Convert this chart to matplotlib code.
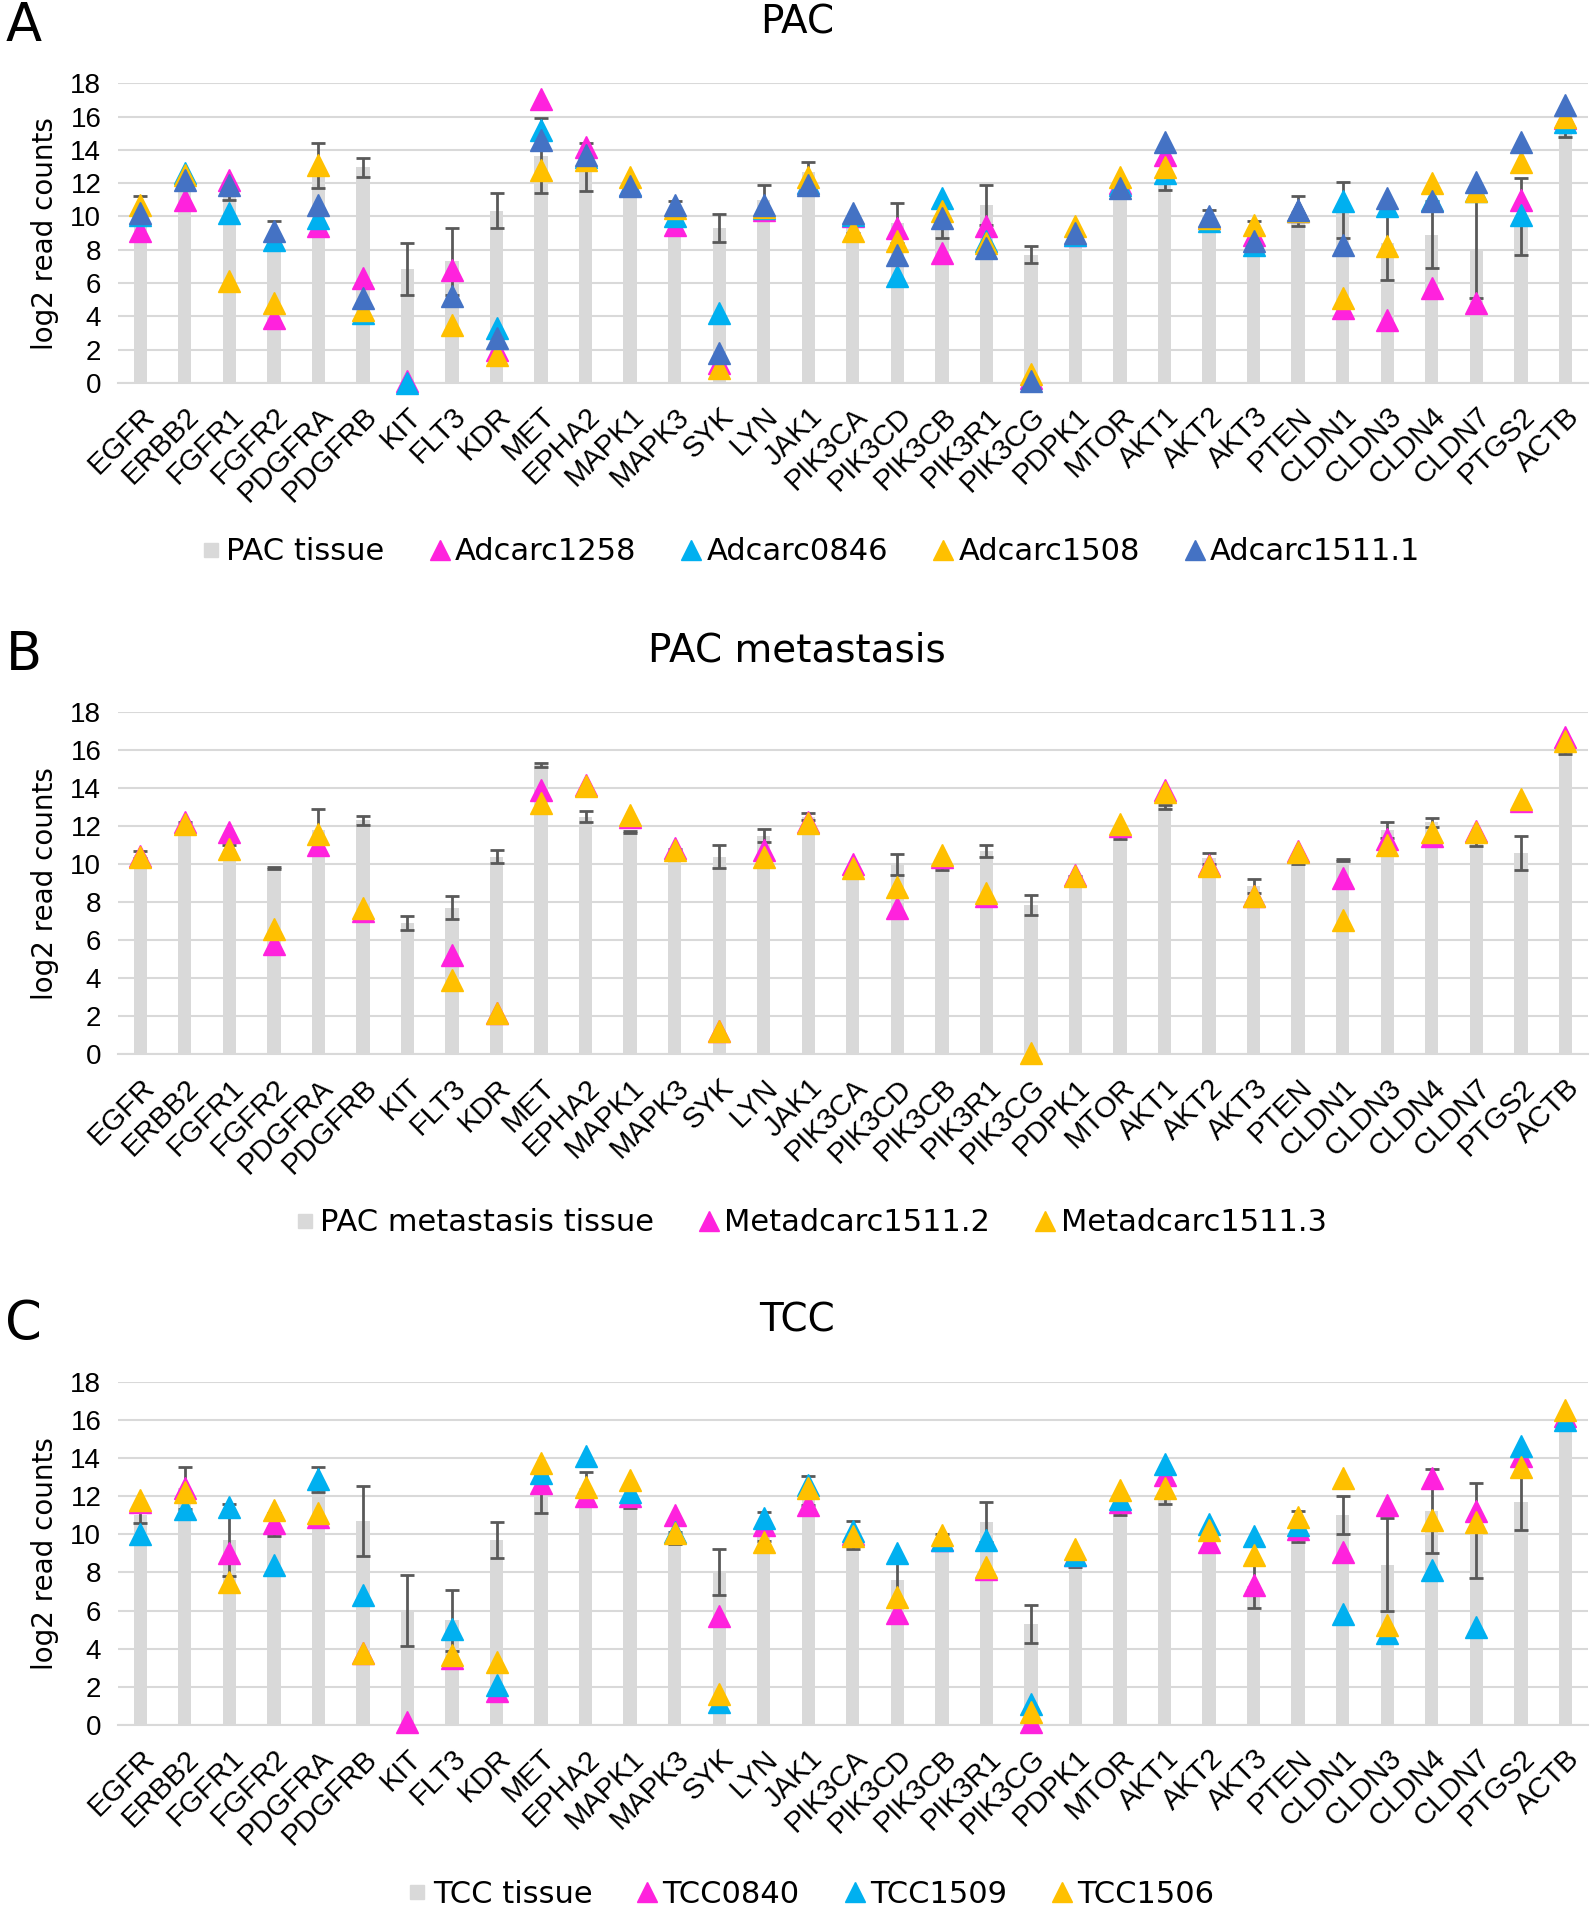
import numpy as np
import matplotlib.pyplot as plt
from matplotlib.lines import Line2D

nan = np.nan

genes = ['EGFR', 'ERBB2', 'FGFR1', 'FGFR2', 'PDGFRA', 'PDGFRB', 'KIT', 'FLT3', 'KDR', 'MET',
         'EPHA2', 'MAPK1', 'MAPK3', 'SYK', 'LYN', 'JAK1', 'PIK3CA', 'PIK3CD', 'PIK3CB', 'PIK3R1',
         'PIK3CG', 'PDPK1', 'MTOR', 'AKT1', 'AKT2', 'AKT3', 'PTEN', 'CLDN1', 'CLDN3', 'CLDN4',
         'CLDN7', 'PTGS2', 'ACTB']

# A - PAC
pac_tissue = [10.4, 12.0, 11.3, 8.85, 13.05, 12.95, 6.85, 7.3, 10.35, 13.65, 12.95, 11.8, 10.3, 9.3, 11.0, 12.7,
              9.4, 9.6, 9.2, 10.7, 7.7, 8.7, 11.5, 12.0, 10.0, 8.9, 10.3, 10.4, 8.4, 8.9, 8.0, 10.0, 15.2]
pac_err = [0.8, 0.3, 0.3, 0.85, 1.35, 0.57, 1.56, 2.0, 1.05, 2.25, 1.45, 0.3, 0.6, 0.85, 0.9, 0.6,
           0.4, 1.2, 0.5, 1.2, 0.5, 0.3, 0.4, 0.4, 0.4, 0.8, 0.9, 1.7, 2.2, 2.0, 2.9, 2.3, 0.4]
adcarc1258 = [9.1, 11.0, 12.2, 3.9, 9.4, 6.3, 0.1, 6.8, 2.0, 17.05, 14.2, 11.9, 9.5, 1.2, 10.4, 12.0,
              10.0, 9.3, 7.8, 9.4, 0.3, 8.9, 12.0, 13.7, 9.9, 8.9, 10.3, 4.5, 3.8, 5.7, 4.8, 11.0, 15.9]
adcarc0846 = [10.1, 12.6, 10.2, 8.6, 9.9, 4.2, 0.0, nan, 3.3, 15.2, 13.6, 11.9, 10.0, 4.2, 10.5, 12.0,
              10.1, 6.4, 11.1, 8.5, nan, 8.9, 11.9, 12.6, 9.7, 8.3, 10.3, 10.9, 10.6, 11.0, 11.5, 10.1, 15.7]
adcarc1508 = [10.7, 12.5, 6.1, 4.8, 13.1, 4.4, nan, 3.5, 1.7, 12.8, 13.4, 12.4, 10.5, 0.9, 10.55, 12.4,
              9.1, 8.5, 10.3, 8.4, 0.55, 9.4, 12.4, 13.0, 9.9, 9.5, 10.3, 5.1, 8.2, 12.0, 11.5, 13.3, 16.0]
adcarc1511_1 = [10.2, 12.2, 11.9, 9.1, 10.7, 5.1, nan, 5.2, 2.7, 14.6, 13.7, 11.8, 10.7, 1.8, 10.7, 11.9,
                10.2, 7.7, 9.9, 8.1, 0.1, 9.0, 11.7, 14.5, 10.0, 8.5, 10.4, 8.3, 11.1, 10.9, 12.1, 14.5, 16.7]

# B - PAC metastasis
met_tissue = [10.5, 12.0, 10.8, 9.8, 11.8, 12.3, 6.9, 7.7, 10.4, 15.2, 12.5, 11.7, 10.6, 10.4, 11.5, 12.5,
              9.5, 10.0, 9.9, 10.7, 7.85, 9.2, 11.5, 13.0, 10.3, 8.85, 10.2, 10.2, 11.8, 12.2, 11.1, 10.6, 16.0]
met_err = [0.2, 0.2, 0.2, 0.05, 1.1, 0.25, 0.35, 0.6, 0.35, 0.1, 0.3, 0.05, 0.2, 0.6, 0.35, 0.2,
           0.2, 0.55, 0.2, 0.3, 0.55, 0.2, 0.2, 0.1, 0.3, 0.35, 0.2, 0.05, 0.4, 0.25, 0.15, 0.9, 0.2]
metadcarc1511_2 = [10.45, 12.2, 11.7, 5.8, 11.0, 7.55, nan, 5.2, 2.15, 13.9, 14.15, 12.5, 10.85, 1.25, 10.75, 12.2,
                   10.0, 7.7, 10.4, 8.3, nan, 9.45, 12.0, 13.9, 9.95, 8.3, 10.7, 9.25, 11.3, 11.5, 11.75, 13.3, 16.7]
metadcarc1511_3 = [10.4, 12.1, 10.8, 6.6, 11.6, 7.7, nan, 3.9, 2.15, 13.2, 14.1, 12.6, 10.75, 1.2, 10.4, 12.15,
                   9.8, 8.8, 10.5, 8.5, 0.05, 9.4, 12.1, 13.8, 9.9, 8.3, 10.65, 7.05, 11.0, 11.7, 11.7, 13.4, 16.5]

# C - TCC
tcc_tissue = [11.0, 12.4, 9.7, 10.5, 12.85, 10.7, 6.0, 5.5, 9.7, 12.1, 12.4, 11.7, 9.8, 8.0, 10.4, 12.3,
              9.95, 7.6, 9.6, 10.65, 5.3, 8.6, 11.3, 11.9, 9.4, 7.3, 10.4, 11.0, 8.4, 11.2, 10.2, 11.7, 15.8]
tcc_err = [0.4, 1.1, 1.9, 0.6, 0.65, 1.85, 1.85, 1.6, 0.95, 1.0, 0.85, 0.3, 0.3, 1.2, 0.75, 0.75,
           0.75, 1.2, 0.4, 1.05, 1.0, 0.3, 0.3, 0.3, 0.3, 1.15, 0.8, 1.0, 2.45, 2.2, 2.5, 1.5, 0.3]
tcc0840 = [11.7, 12.4, 9.0, 10.6, 10.9, 3.8, 0.15, 3.5, 1.8, 12.7, 12.0, 12.0, 11.0, 5.7, 10.5, 11.55,
           10.0, 5.85, 9.7, 8.2, 0.15, 8.9, 11.7, 13.1, 9.6, 7.35, 10.3, 9.05, 11.55, 12.95, 11.2, 14.1, 16.2]
tcc1509 = [10.0, 11.3, 11.45, 8.4, 12.9, 6.8, nan, 5.05, 2.1, 13.2, 14.1, 12.2, 10.1, 1.2, 10.85, 12.6,
           10.15, 9.0, 9.7, 9.7, 1.1, 8.9, 11.85, 13.7, 10.55, 9.9, 10.5, 5.8, 4.8, 8.1, 5.15, 14.6, 16.0]
tcc1506 = [11.8, 12.2, 7.5, 11.25, 11.1, 3.75, nan, 3.65, 3.3, 13.75, 12.5, 12.85, 10.05, 1.65, 9.6, 12.4,
           9.9, 6.7, 9.95, 8.3, 0.7, 9.25, 12.3, 12.4, 10.2, 8.9, 10.9, 12.95, 5.25, 10.75, 10.65, 13.55, 16.5]

MAG = '#FF22DD'
CYA = '#00B0F0'
YEL = '#FFC000'
BLU = '#4472C4'
GRAY = '#D9D9D9'

panels = [
    ('A', 'PAC', 'PAC tissue', pac_tissue, pac_err,
     [('Adcarc1258', adcarc1258, MAG), ('Adcarc0846', adcarc0846, CYA),
      ('Adcarc1508', adcarc1508, YEL), ('Adcarc1511.1', adcarc1511_1, BLU)],
     0.7998, 0.9564, 0.7113),
    ('B', 'PAC metastasis', 'PAC metastasis tissue', met_tissue, met_err,
     [('Metadcarc1511.2', metadcarc1511_2, MAG), ('Metadcarc1511.3', metadcarc1511_3, YEL)],
     0.4486, 0.6276, 0.3604),
    ('C', 'TCC', 'TCC tissue', tcc_tissue, tcc_err,
     [('TCC0840', tcc0840, MAG), ('TCC1509', tcc1509, CYA), ('TCC1506', tcc1506, YEL)],
     0.0978, 0.2774, 0.0094),
]

fig = plt.figure(figsize=(15.94, 19.12), dpi=100)
x = np.arange(len(genes))
FONT = 'Liberation Sans'

for letter, title, tissue_lbl, tissue, err, series, bot, top, leg_y in panels:
    ax = fig.add_axes([0.074, bot, 0.922, top - bot])
    ax.set_axisbelow(True)
    ax.bar(x, tissue, width=0.3, color=GRAY, zorder=2)
    ax.errorbar(x, tissue, yerr=err, fmt='none', ecolor='#595959', elinewidth=2,
                capsize=5, capthick=2, zorder=3)
    handles = [Line2D([], [], ls='none', marker='s', ms=10, color=GRAY, label=tissue_lbl)]
    for name, vals, col in series:
        ax.plot(x, vals, ls='none', marker='^', ms=16, color=col, zorder=4, clip_on=False)
        handles.append(Line2D([], [], ls='none', marker='^', ms=15, color=col, label=name))

    ax.set_xlim(-0.5, len(genes) - 0.5)
    ax.set_ylim(0, 18)
    ax.set_yticks(range(0, 19, 2))
    ax.yaxis.grid(True, color=GRAY, lw=1.5)
    for s in ['top', 'right', 'left']:
        ax.spines[s].set_visible(False)
    ax.spines['bottom'].set_color(GRAY)
    ax.spines['bottom'].set_linewidth(1.5)
    ax.tick_params(length=0, labelsize=20, pad=12)
    for lab in ax.get_yticklabels():
        lab.set_family(FONT)
    ax.set_xticks(x)
    ax.set_xticklabels(genes, rotation=45, ha='right', va='top', rotation_mode='anchor',
                       family=FONT, fontsize=21)
    ax.tick_params(axis='x', pad=14)
    ax.set_ylabel('log2 read counts', fontsize=20, family='DejaVu Sans', labelpad=8)

    fig.text(0.5, top + 0.032, title, ha='center', va='center', fontsize=28, family='DejaVu Sans')
    fig.text(0.015, top + 0.030, letter, ha='center', va='center', fontsize=38, family='DejaVu Sans')
    fig.legend(handles=handles, loc='center', bbox_to_anchor=(0.507, leg_y), ncol=len(handles),
               frameon=False, prop={'family': 'DejaVu Sans', 'size': 22},
               handletextpad=0.0, columnspacing=1.3, handlelength=1.0)

fig.savefig('out.png', dpi=100)
